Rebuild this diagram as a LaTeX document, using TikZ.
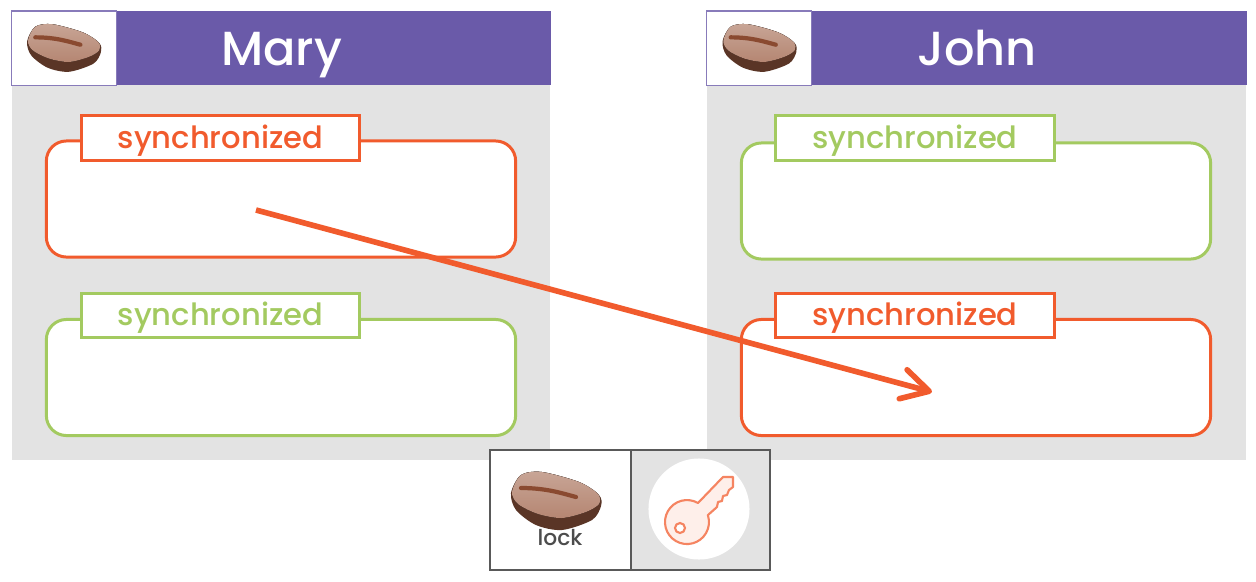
\documentclass[tikz,border=0pt]{standalone}
\usepackage{fontspec}
\setmainfont{Poppins Medium}
\usetikzlibrary{arrows.meta}

\definecolor{headpurple}{HTML}{6A5AA9}
\definecolor{hotred}{HTML}{F15B2D}
\definecolor{okgreen}{HTML}{A3CA60}
\definecolor{panelgray}{HTML}{E3E3E3}
\definecolor{beanlight}{HTML}{C8A596}
\definecolor{beanmid}{HTML}{B58672}
\definecolor{beandark}{HTML}{5A3526}
\definecolor{beancrease}{HTML}{8A4A30}

\tikzset{
  panel/.style={fill=panelgray,minimum width=5.38cm,minimum height=3.75cm,inner sep=0pt},
  head/.style={fill=headpurple,minimum width=5.39cm,minimum height=.74cm,inner sep=0pt,
    text=white,text height=.34cm,text depth=0pt,font=\fontsize{13.6}{13.6}\selectfont},
  beanbox/.style={draw=headpurple!80,line width=.3pt,fill=white,minimum width=1.05cm,minimum height=.74cm},
  syncbox/.style={draw=#1,line width=.85pt,fill=white,rounded corners=.2cm,
    minimum width=4.69cm,minimum height=1.16cm,inner sep=0pt},
  synctag/.style={draw=#1,line width=.85pt,fill=white,text=#1,minimum width=2.78cm,
    minimum height=.44cm,inner sep=0pt,text height=.2cm,text depth=0pt,font=\fontsize{8.7}{8.7}\selectfont},
  cell/.style={draw=black!65,line width=.4pt,minimum height=1.2cm,inner sep=0pt},
  bean/.pic={
    \fill[beandark]
      plot[smooth cycle] coordinates {(-45,-8) (-35,-26) (-14,-29) (23,-19) (43,-6) (45,5) (36,19) (6,29) (-20,24) (-40,9)};
    \fill[top color=beanlight,bottom color=beanmid]
      plot[smooth cycle] coordinates {(-44,-9) (-35,-26) (-14,-29) (23,-19) (42,-7) (43,3) (30,11) (6,17) (-18,13) (-38,3)};
    \draw[beancrease,line width=1.2pt,line cap=round] (-35,-13) .. controls (-10,-13) and (5,-8) .. (20,-4);
  },
}

\begin{document}
\begin{tikzpicture}[x=.01cm,y=-.01cm,node distance=6.95cm]
    \useasboundingbox (0,0) rectangle (1256,581);

    \node[panel]                       (maryPanel) at (281,272.5){};
    \node[panel] [right of=maryPanel]  (johnPanel){};
    \node[head]                        (maryHead) at (281.5,48){Mary};
    \node[head]  [right of=maryHead]   (johnHead){John};
    \node[beanbox]                     (maryBeanBox) at (64,48){};
    \node[beanbox] [right of=maryBeanBox] (johnBeanBox){};
    \pic[scale=.82] at (maryBeanBox) {bean};
    \pic[scale=.82] at (johnBeanBox) {bean};

    \node[syncbox=hotred]    (maryTop) at (281,199){};
    \node[syncbox=okgreen]   (maryBottom) at (281,377.5){};
    \node[syncbox=okgreen]   (johnTop) at (976,201){};
    \node[syncbox=hotred]    (johnBottom) at (976,377.5){};
    \node[synctag=hotred]    (maryTopTag) at (220.5,138){synchronized};
    \node[synctag=okgreen]   (maryBottomTag) at (220.5,315.5){synchronized};
    \node[synctag=okgreen]   (johnTopTag) at (915,138){synchronized};
    \node[synctag=hotred]    (johnBottomTag) at (915,315.5){synchronized};

    \node[cell,fill=white,minimum width=1.41cm]      (lockCell) at (560.5,510){};
    \node[cell,fill=panelgray,minimum width=1.39cm]  (keyCell) at (700.5,510){};
    \pic at (556,501) {bean};
    \node[text=black!70,font=\fontsize{6.2}{6.2}\selectfont] (lockText) at (560,538){lock};
    \node[circle,fill=white,minimum size=1.01cm,inner sep=0pt] (keyDisc) at (699,509){};
    \draw[hotred!75!white,fill=hotred!10,line width=.6pt,line join=round]
      (708,515) -- (717,507) -- (718,502) -- (722,501) -- (723,496) -- (727,495) -- (729,490)
      -- (733,487) -- (733,477) -- (723,477) -- (698,503)
      arc[start angle=300,end angle=-18,radius=22] -- cycle;
    \draw[hotred!75!white,fill=white,line width=.6pt] (680,528) circle[radius=5];

    \coordinate (arrowStart) at (256,210);
    \coordinate (arrowEnd) at (932,392);
    \draw[hotred,line width=1.6pt,
      -{Straight Barb[length=.27cm,width=.3cm,line width=1.6pt,round]}]
      (arrowStart) -- (arrowEnd);
\end{tikzpicture}
\end{document}
